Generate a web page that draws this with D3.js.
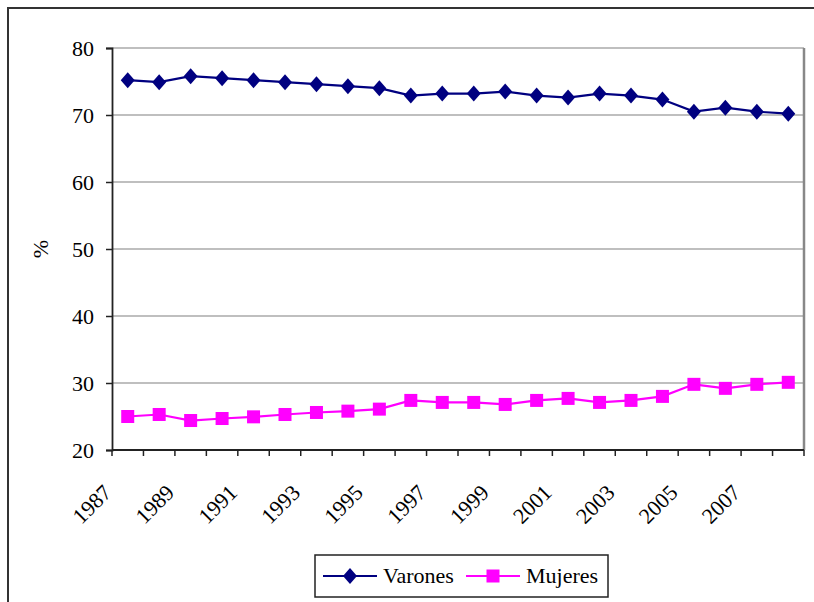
<!DOCTYPE html>
<html>
<head>
<meta charset="utf-8">
<script src="https://cdn.jsdelivr.net/npm/d3@7"></script>
<style>
  body { margin: 0; background: #fff; }
</style>
</head>
<body>
<div id="chart"></div>
<script>
// Participacion por sexo (%), 1987-2008
const years = d3.range(1987, 2009).map(String);
const varones = [75.2, 74.9, 75.8, 75.5, 75.2, 74.9, 74.6, 74.3, 74.0, 72.9, 73.2,
  73.2, 73.5, 72.9, 72.6, 73.2, 72.9, 72.3, 70.5, 71.1, 70.5, 70.2];
const mujeres = [25.0, 25.3, 24.4, 24.7, 24.95, 25.3, 25.6, 25.8, 26.1, 27.4, 27.1,
  27.1, 26.8, 27.4, 27.7, 27.1, 27.4, 28.0, 29.8, 29.2, 29.8, 30.1];
const yTicks = [20, 30, 40, 50, 60, 70, 80];
const xLabels = years.filter((d, i) => i % 2 === 0 && +d < 2008);
const seriesNames = ["Varones", "Mujeres"];

const W = 814, H = 602;
const plotL = 112, plotR = 804, plotT = 48, plotB = 450;
const colors = ["#000080", "#ff00ff"];

const svg = d3.select("#chart").append("svg")
  .attr("width", W)
  .attr("height", H)
  .attr("font-family", "Times New Roman")
  .attr("font-size", 22);

// outer chart frame (runs off the picture right and bottom)
svg.append("rect")
  .attr("x", 8).attr("y", 8)
  .attr("width", 900).attr("height", 700)
  .attr("fill", "none")
  .attr("stroke", "#333")
  .attr("stroke-width", 2);

let x = d3.scaleBand().domain(years).range([plotL, plotR]).padding(0);
let y = d3.scaleLinear().domain([20, 80]).range([plotB, plotT]);
let cx = (d) => x(d) + x.bandwidth() / 2;

// gridlines
svg.append("g").selectAll("line")
  .data(yTicks.slice(1))
  .enter().append("line")
  .attr("x1", plotL).attr("x2", plotR)
  .attr("y1", (d) => y(d)).attr("y2", (d) => y(d))
  .attr("stroke", "#808080")
  .attr("stroke-width", 1.2);

// plot area right edge
svg.append("line")
  .attr("x1", plotR).attr("x2", plotR)
  .attr("y1", plotT).attr("y2", plotB)
  .attr("stroke", "#888")
  .attr("stroke-width", 2.5);

// y axis
let yAxis = svg.append("g")
  .attr("transform", "translate(" + plotL + ",0)")
  .call(d3.axisLeft(y).tickValues(yTicks).tickSize(6).tickPadding(12).tickFormat(d3.format("d")));
// drop d3's sans-serif defaults so the svg font is inherited
yAxis.attr("font-family", null).attr("font-size", null);
yAxis.select(".domain").attr("stroke", "#222").attr("stroke-width", 1.8);
yAxis.selectAll(".tick line").attr("stroke", "#222").attr("stroke-width", 1.5);
yAxis.selectAll("text")
  .attr("fill", "#000")
  .attr("dy", "0.34em");

// x axis: ticks between categories
let bounds = years.map((d) => x(d)).concat([plotR]);
let xg = svg.append("g");
xg.append("line")
  .attr("x1", plotL).attr("x2", plotR)
  .attr("y1", plotB).attr("y2", plotB)
  .attr("stroke", "#222")
  .attr("stroke-width", 2);
xg.selectAll(".tk")
  .data(bounds)
  .enter().append("line")
  .attr("x1", (d) => d).attr("x2", (d) => d)
  .attr("y1", plotB).attr("y2", plotB + 6)
  .attr("stroke", "#222")
  .attr("stroke-width", 1.5);
xg.selectAll(".lbl")
  .data(xLabels)
  .enter().append("text")
  .attr("text-anchor", "end")
  .attr("transform", (d) => "translate(" + (cx(d) - 15) + "," + (plotB + 44) + ") rotate(-45)")
  .text((d) => d);

// y axis title
svg.append("text")
  .attr("transform", "translate(48,249) rotate(-90)")
  .attr("text-anchor", "middle")
  .text("%");

// series
let line = d3.line().x((d, i) => cx(years[i])).y((d) => y(d));
[varones, mujeres].forEach((vals, k) => {
  svg.append("path")
    .datum(vals)
    .attr("d", line)
    .attr("fill", "none")
    .attr("stroke", colors[k])
    .attr("stroke-width", 2.2);
});

function marker(g, k) {
  if (k === 0) {
    g.append("path")
      .attr("d", "M0,-8L7,0L0,8L-7,0Z")
      .attr("fill", colors[0]);
  } else {
    g.append("rect")
      .attr("x", -6.5).attr("y", -6.5)
      .attr("width", 13).attr("height", 13)
      .attr("fill", colors[1]);
  }
}
[varones, mujeres].forEach((vals, k) => {
  svg.append("g").selectAll("g")
    .data(vals)
    .enter().append("g")
    .attr("transform", (d, i) => "translate(" + cx(years[i]) + "," + y(d) + ")")
    .each(function() { marker(d3.select(this), k); });
});

// legend
let lg = svg.append("g").attr("transform", "translate(315,555)");
lg.append("rect")
  .attr("width", 293).attr("height", 42)
  .attr("fill", "#fff")
  .attr("stroke", "#222")
  .attr("stroke-width", 1.5);
const legX = [8, 151];
seriesNames.forEach((name, k) => {
  let item = lg.append("g").attr("transform", "translate(" + legX[k] + ",21)");
  item.append("line")
    .attr("x1", 0).attr("x2", 54)
    .attr("stroke", colors[k])
    .attr("stroke-width", 2.2);
  marker(item.append("g").attr("transform", "translate(27,0)"), k);
  item.append("text")
    .attr("x", 60)
    .attr("y", 7)
    .text(name);
});
</script>
</body>
</html>
